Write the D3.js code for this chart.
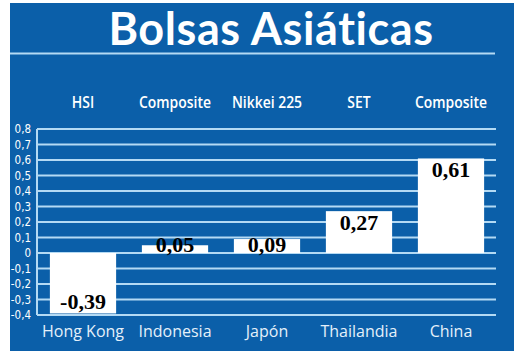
<!DOCTYPE html>
<html><head><meta charset="utf-8">
<script src="https://cdn.jsdelivr.net/npm/d3@7"></script>
<style>body{margin:0;background:#fff}svg{display:block}</style>
</head><body>
<svg id="c" width="520" height="356"></svg>
<script>
const countries = ["Hong Kong","Indonesia","Japón","Thailandia","China"];
const indices = ["HSI","Composite","Nikkei 225","SET","Composite"];
const values = [-0.39,0.05,0.09,0.27,0.61];
const yTicks = [0.8,0.7,0.6,0.5,0.4,0.3,0.2,0.1,0,-0.1,-0.2,-0.3,-0.4];
const title = "Bolsas Asiáticas";

const svg = d3.select("#c");
const blue = "#0b5fa9", grid = "#b4daf4";
svg.append("rect").attr("x",10).attr("y",3).attr("width",504).attr("height",348).attr("fill",blue);
svg.append("text").attr("x",271).attr("y",45).attr("text-anchor","middle")
  .attr("font-family","Lato, 'Open Sans', sans-serif").attr("font-weight","bold")
  .attr("font-size",45).attr("letter-spacing",0.6).attr("fill","#fff").text(title);
svg.append("line").attr("x1",10).attr("x2",495).attr("y1",53.5).attr("y2",53.5)
  .attr("stroke",grid).attr("stroke-width",2);

const x = d3.scaleBand().domain(countries).range([37,497]).paddingInner(0.28).paddingOuter(0.14);
const y = d3.scaleLinear().domain([-0.4,0.8]).range([315,129]);

// gridlines
svg.append("g").selectAll("line").data(yTicks).join("line")
  .attr("x1",37).attr("x2",496).attr("y1",d=>y(d)).attr("y2",d=>y(d))
  .attr("stroke",grid).attr("stroke-width",2);
svg.append("line").attr("x1",37).attr("x2",37).attr("y1",y(0.8)).attr("y2",y(-0.4))
  .attr("stroke",grid).attr("stroke-width",2);
// y tick labels
svg.append("g").selectAll("text").data(yTicks).join("text")
  .attr("x",31).attr("y",d=>y(d)+4).attr("text-anchor","end")
  .attr("font-family","'Liberation Sans Narrow','DejaVu Sans Condensed',sans-serif")
  .attr("font-size",11.5).attr("fill","#fff")
  .text(d=> d===0 ? "0" : String(d).replace(".",","));

// bars
svg.append("g").selectAll("rect").data(values).join("rect")
  .attr("x",(d,i)=>x(countries[i])).attr("width",x.bandwidth())
  .attr("y",d=>y(Math.max(0,d))).attr("height",d=>Math.abs(y(d)-y(0)))
  .attr("fill","#fff");
// value labels
svg.append("g").selectAll("text").data(values).join("text")
  .attr("x",(d,i)=>x(countries[i])+x.bandwidth()/2)
  .attr("y",d=> d<0 ? y(d)-4 : Math.min(y(d)+19, y(0)-1))
  .attr("text-anchor","middle")
  .attr("font-family","'Liberation Serif','DejaVu Serif',serif").attr("font-weight","bold")
  .attr("font-size",22).attr("fill","#000")
  .text(d=>String(d).replace(".",","));
// index names
svg.append("g").selectAll("text").data(indices).join("text")
  .attr("transform",(d,i)=>`translate(${x(countries[i])+x.bandwidth()/2},108) scale(0.82,1)`)
  .attr("text-anchor","middle")
  .attr("font-family","'Open Sans','DejaVu Sans Condensed',sans-serif")
  .attr("font-size",17).attr("font-weight",600).attr("fill","#fff").text(d=>d);
// country names
svg.append("g").selectAll("text").data(countries).join("text")
  .attr("x",(d,i)=>x(d)+x.bandwidth()/2).attr("y",337)
  .attr("text-anchor","middle")
  .attr("font-family","'Open Sans','Noto Sans',sans-serif")
  .attr("font-size",16).attr("fill","#e4f0fa").text(d=>d);
</script>
</body></html>
